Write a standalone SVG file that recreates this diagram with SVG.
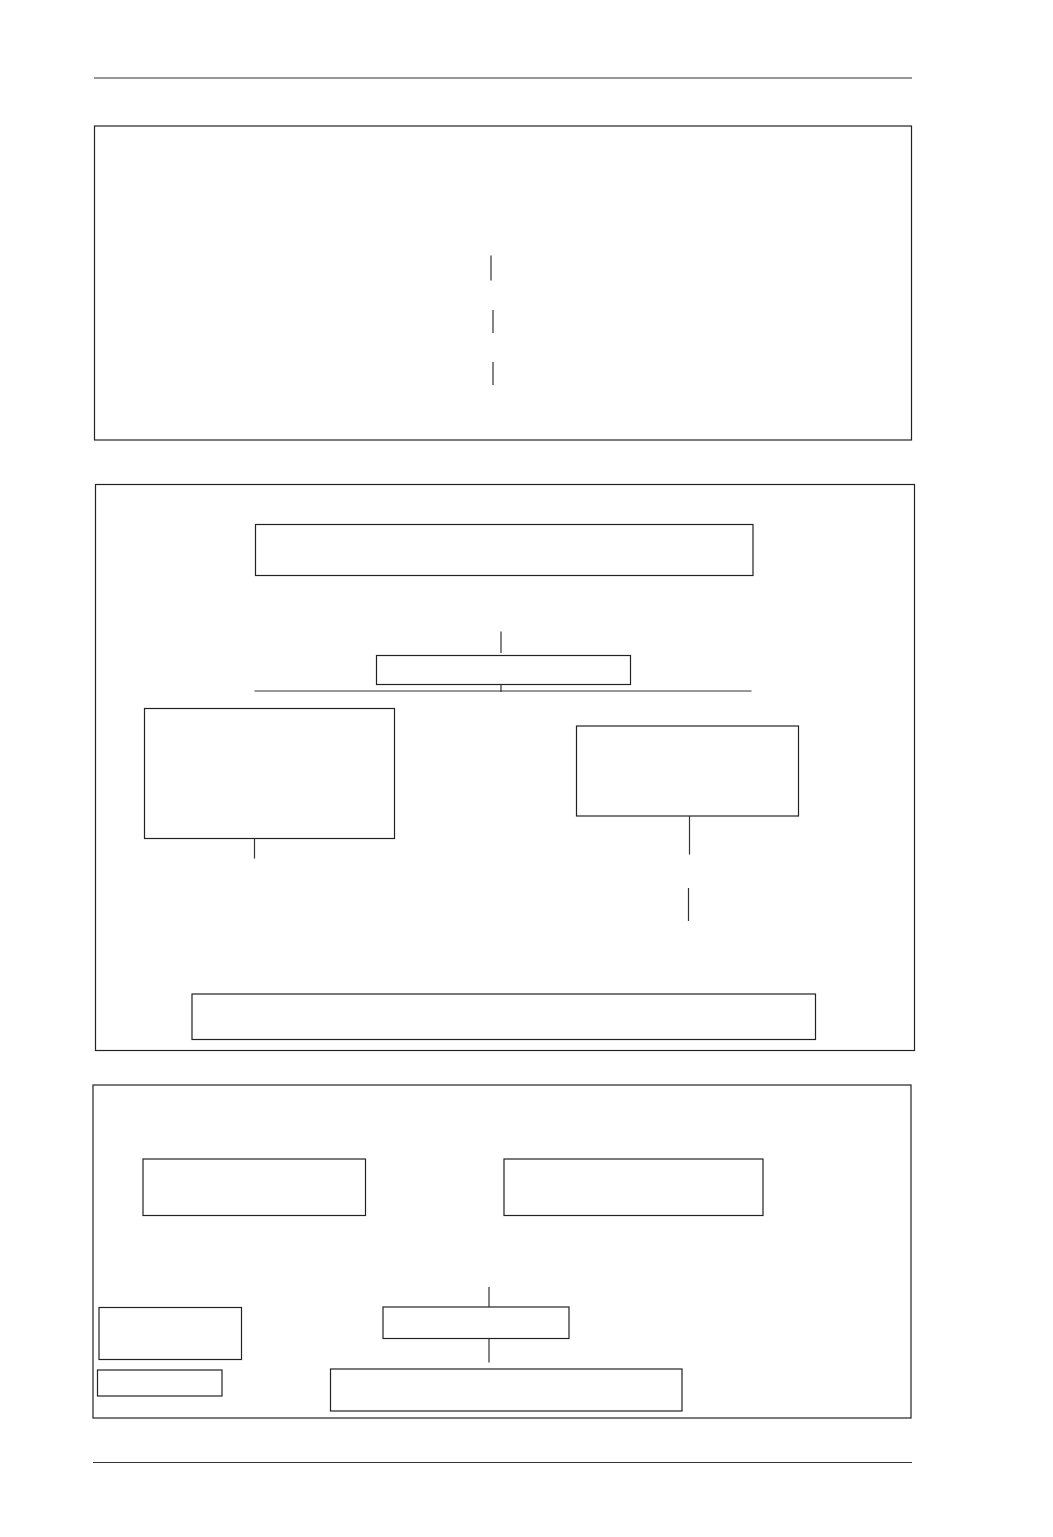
<svg xmlns="http://www.w3.org/2000/svg" width="1053" height="1537" viewBox="0 0 1053 1537">
<style>
.b{fill:none;stroke:#222;stroke-width:1.2}
.l{stroke:#333;stroke-width:1.2;fill:none}
</style>
<rect x="0" y="0" width="1053" height="1537" fill="#fff"/>
<g id="rules">
<line class="l" x1="94" y1="78" x2="912" y2="78"/>
<line class="l" x1="93" y1="1462.5" x2="912" y2="1462.5"/>
</g>
<g id="panel1"><rect class="b" x="94.5" y="126" width="817" height="314"/></g>
<g id="panel2"><rect class="b" x="95.5" y="484.5" width="819" height="566"/></g>
<g id="panel3"><rect class="b" x="93" y="1085" width="818" height="333"/></g>
<g id="nodeA"><rect class="b" x="255.5" y="524.5" width="497.5" height="51"/></g>
<g id="nodeB"><rect class="b" x="376.5" y="655.5" width="254" height="29"/></g>
<g id="nodeC"><rect class="b" x="144.5" y="708.5" width="250" height="130"/></g>
<g id="nodeD"><rect class="b" x="576.5" y="726" width="222" height="90"/></g>
<g id="nodeE"><rect class="b" x="192" y="994" width="623.5" height="45.5"/></g>
<g id="nodeF"><rect class="b" x="143" y="1159" width="222.5" height="56.5"/></g>
<g id="nodeG"><rect class="b" x="504" y="1159" width="259" height="56.5"/></g>
<g id="nodeH"><rect class="b" x="383" y="1307" width="186" height="31.5"/></g>
<g id="nodeI"><rect class="b" x="330.5" y="1369" width="351.5" height="42"/></g>
<g id="nodeJ"><rect class="b" x="99" y="1307.5" width="142.5" height="52"/></g>
<g id="nodeK"><rect class="b" x="97.5" y="1370" width="124.5" height="26"/></g>
<g id="connectors">
<line class="l" x1="491" y1="255.5" x2="491" y2="280.5"/>
<line class="l" x1="493" y1="310" x2="493" y2="333"/>
<line class="l" x1="493" y1="362" x2="493" y2="385"/>
<line class="l" x1="501" y1="631.5" x2="501" y2="653"/>
<line class="l" x1="501" y1="684.5" x2="501" y2="692"/>
<line class="l" x1="254.5" y1="691" x2="751.5" y2="691"/>
<line class="l" x1="254.5" y1="839" x2="254.5" y2="858.5"/>
<line class="l" x1="689.5" y1="816" x2="689.5" y2="854.5"/>
<line class="l" x1="688.5" y1="888" x2="688.5" y2="921"/>
<line class="l" x1="489" y1="1287" x2="489" y2="1307"/>
<line class="l" x1="489" y1="1338.5" x2="489" y2="1362.5"/>
</g>
</svg>
